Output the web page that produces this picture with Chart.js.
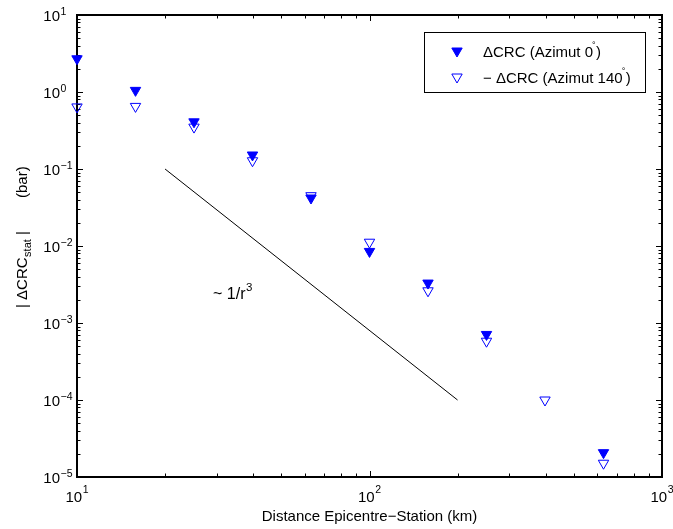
<!DOCTYPE html>
<html>
<head>
<meta charset="utf-8">
<script src="https://cdn.jsdelivr.net/npm/chart.js@4"></script>
<style>
    html, body { margin: 0; padding: 0; background: #fff; }
    #wrap { width: 673px; height: 529px; }
</style>
</head>
<body>
<div id="wrap"><canvas id="crcChart" width="673" height="529"></canvas></div>
<script>
// ============================================
// |dCRC_stat| vs epicentral distance (log-log)
// ============================================

// ========== DATA ==========
const distanceKm = [10, 15.85, 25.12, 39.81, 63.1, 100, 158.5, 251.2, 398.1, 631];
const crcAzimut0 = [2.7, 1.05, 0.41, 0.152, 0.042, 0.0085, 0.0033, 0.00071, null, 2.07e-5];
const crcAzimut140 = [0.64, 0.65, 0.35, 0.128, 0.045, 0.0112, 0.00262, 0.00058, 0.0001, 1.51e-5];

// ~1/r^3 guide line
const slopeX = [20, 200];
const slopeY = [0.1, 1e-4];

// tick labels (10^exp)
const xTickValues = [10, 100, 1000];
const xTickExp = ['1', '2', '3'];
const yTickValues = [10, 1, 0.1, 0.01, 0.001, 0.0001, 0.00001];
const yTickExp = ['1', '0', '\u22121', '\u22122', '\u22123', '\u22124', '\u22125'];

const BLUE = '#0000ff';
const FONT = "'Liberation Sans', Arial, Helvetica, sans-serif";

function font(size) {
    return size + 'px ' + FONT;
}

function toPoints(xs, ys) {
    return xs.map((x, i) => ({ x: x, y: ys[i] }));
}

// ========== HELPERS ==========
function downTriangle(ctx, x, y, r) {
    ctx.beginPath();
    ctx.moveTo(x, y + r);
    ctx.lineTo(x - 0.866 * r, y - 0.5 * r);
    ctx.lineTo(x + 0.866 * r, y - 0.5 * r);
    ctx.closePath();
}

function minorValues(min, max) {
    const out = [];
    for (let d = min; d < max; d *= 10) {
        for (let m = 1; m <= 9; m++) out.push(d * m);
    }
    out.push(max);
    return out;
}

// ========== FRAME / TICKS / LABELS ==========
const framePlugin = {
    id: 'matlabFrame',
    beforeDatasetsDraw(chart) {
        const ctx = chart.ctx;
        const a = chart.chartArea;
        const xs = chart.scales.x;
        const ys = chart.scales.y;
        ctx.save();
        ctx.strokeStyle = '#000';
        ctx.fillStyle = '#000';

        // inward ticks on all four sides
        ctx.lineWidth = 1;
        ctx.beginPath();
        minorValues(10, 1000).forEach(v => {
            const px = Math.round(xs.getPixelForValue(v)) + 0.5;
            const len = xTickValues.includes(v) ? 6 : 3.5;
            ctx.moveTo(px, a.bottom); ctx.lineTo(px, a.bottom - len);
            ctx.moveTo(px, a.top); ctx.lineTo(px, a.top + len);
        });
        minorValues(1e-5, 10).forEach(v => {
            const py = Math.round(ys.getPixelForValue(v)) + 0.5;
            const major = yTickValues.some(t => Math.abs(t - v) / t < 1e-6);
            const len = major ? 6 : 3.5;
            ctx.moveTo(a.left, py); ctx.lineTo(a.left + len, py);
            ctx.moveTo(a.right, py); ctx.lineTo(a.right - len, py);
        });
        ctx.stroke();

        // axes box
        ctx.lineWidth = 2;
        ctx.strokeRect(a.left, a.top, a.right - a.left, a.bottom - a.top);

        // y tick labels
        yTickValues.forEach((v, i) => {
            const py = ys.getPixelForValue(v);
            ctx.font = font(15);
            ctx.textAlign = 'right';
            ctx.fillText('10', 60, py + 5.5);
            ctx.font = font(10.5);
            ctx.textAlign = 'left';
            ctx.fillText(yTickExp[i], 60.5, py - 0.3);
        });

        // x tick labels
        xTickValues.forEach((v, i) => {
            const px = xs.getPixelForValue(v);
            ctx.font = font(15);
            const w10 = ctx.measureText('10').width;
            ctx.font = font(10.5);
            const wExp = ctx.measureText(xTickExp[i]).width;
            const left = px - (w10 + 0.5 + wExp) / 2;
            ctx.textAlign = 'left';
            ctx.font = font(15);
            ctx.fillText('10', left, a.bottom + 25);
            ctx.font = font(10.5);
            ctx.fillText(xTickExp[i], left + w10 + 0.5, a.bottom + 15.5);
        });

        // x axis title
        ctx.font = font(15);
        ctx.textAlign = 'center';
        ctx.fillText('Distance Epicentre\u2212Station (km)', (a.left + a.right) / 2, 521);

        // y axis title (rotated)
        ctx.save();
        ctx.translate(27, 308);
        ctx.rotate(-Math.PI / 2);
        ctx.textAlign = 'left';
        ctx.font = font(15);
        let cx = 0;
        ctx.fillText('| \u0394CRC', cx, 0);
        cx += ctx.measureText('| \u0394CRC').width;
        ctx.font = font(11);
        ctx.fillText('stat', cx + 0.5, 4);
        cx += ctx.measureText('stat').width + 0.5;
        ctx.font = font(15);
        ctx.fillText(' |', cx, 0);
        ctx.fillText('(bar)', 110, 0);
        ctx.restore();

        ctx.restore();
    },
    afterDraw(chart) {
        const ctx = chart.ctx;
        ctx.save();

        // ~1/r^3 annotation
        ctx.fillStyle = '#000';
        ctx.textAlign = 'left';
        ctx.font = font(16);
        ctx.fillText('~ 1/r', 213, 299);
        const w = ctx.measureText('~ 1/r').width;
        ctx.font = font(11.5);
        ctx.fillText('3', 213 + w + 0.5, 291);

        // legend box
        const lx = 424, ly = 32, lw = 221, lh = 60;
        ctx.fillStyle = '#fff';
        ctx.fillRect(lx, ly, lw, lh);
        ctx.strokeStyle = '#000';
        ctx.lineWidth = 1;
        ctx.strokeRect(lx + 0.5, ly + 0.5, lw, lh);

        // legend markers
        downTriangle(ctx, 457, 51, 6);
        ctx.fillStyle = BLUE;
        ctx.fill();
        ctx.strokeStyle = BLUE;
        ctx.stroke();
        downTriangle(ctx, 457, 77, 6);
        ctx.stroke();

        // legend texts
        ctx.fillStyle = '#000';
        const rows = [
            { text: '\u0394CRC (Azimut 0', y: 57 },
            { text: '\u2212 \u0394CRC (Azimut 140', y: 83 }
        ];
        rows.forEach(r => {
            ctx.font = font(15);
            ctx.fillText(r.text, 483, r.y);
            const tw = ctx.measureText(r.text).width;
            ctx.font = font(9);
            ctx.fillText('\u00b0', 483 + tw - 1, r.y - 9);
            ctx.font = font(15);
            ctx.fillText(')', 483 + tw + 3, r.y);
        });

        ctx.restore();
    }
};

// ========== CHART ==========
const ctx = document.getElementById('crcChart').getContext('2d');
const crcChart = new Chart(ctx, {
    type: 'scatter',
    data: {
        datasets: [
            {
                label: 'CRC (Azimut 0)',
                data: toPoints(distanceKm, crcAzimut0),
                pointStyle: 'triangle',
                rotation: 180,
                pointRadius: 6,
                pointHoverRadius: 6,
                backgroundColor: BLUE,
                borderColor: BLUE,
                borderWidth: 1,
                clip: false,
                order: 2
            },
            {
                label: '-CRC (Azimut 140)',
                data: toPoints(distanceKm, crcAzimut140),
                pointStyle: 'triangle',
                rotation: 180,
                pointRadius: 6,
                pointHoverRadius: 6,
                backgroundColor: 'rgba(0,0,0,0)',
                borderColor: BLUE,
                borderWidth: 1,
                clip: false,
                order: 1
            },
            {
                label: '~1/r^3',
                data: toPoints(slopeX, slopeY),
                showLine: true,
                borderColor: '#000',
                borderWidth: 1,
                pointRadius: 0,
                order: 3
            }
        ]
    },
    options: {
        responsive: false,
        animation: false,
        events: [],
        layout: {
            padding: { left: 77, top: 15, right: 11, bottom: 52 }
        },
        plugins: {
            legend: { display: false },
            tooltip: { enabled: false }
        },
        scales: {
            x: { type: 'logarithmic', min: 10, max: 1000, display: false },
            y: { type: 'logarithmic', min: 1e-5, max: 10, display: false }
        }
    },
    plugins: [framePlugin]
});
</script>
</body>
</html>
